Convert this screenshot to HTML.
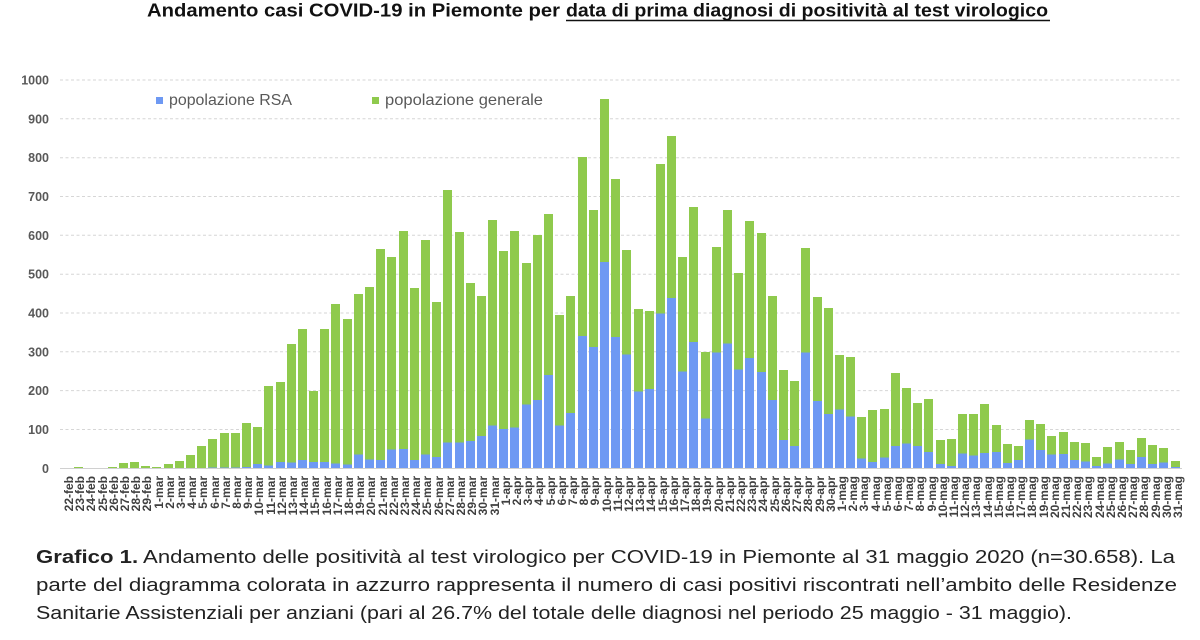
<!DOCTYPE html>
<html><head><meta charset="utf-8">
<style>
html,body{margin:0;padding:0;background:#fff;}
body{width:1200px;height:640px;overflow:hidden;position:relative;font-family:"Liberation Sans",sans-serif;}
svg{position:absolute;left:0;top:0;}
#bars{position:absolute;left:61.9px;top:0;height:468.3px;display:flex;align-items:flex-end;}
#bars i{display:block;width:9px;margin:0 1.105px;height:calc(var(--t)*0.3883px);background:linear-gradient(to top,#6e99f3 calc(var(--r)*0.3883px),#8fca4d 0);}
#lab{position:absolute;left:61.9px;top:476px;display:flex;align-items:flex-start;}
#lab span{display:block;width:11.21px;line-height:11.21px;writing-mode:vertical-rl;transform:rotate(180deg);font:bold 12px "Liberation Sans",sans-serif;color:#404040;white-space:nowrap;}
</style></head><body>
<svg width="1200" height="640" xmlns="http://www.w3.org/2000/svg">
<g stroke="#d6d6d6" stroke-width="1" stroke-dasharray="3 2.5">
<line x1="60" x2="1182" y1="80" y2="80"/>
<line x1="60" x2="1182" y1="118.8" y2="118.8"/>
<line x1="60" x2="1182" y1="157.7" y2="157.7"/>
<line x1="60" x2="1182" y1="196.5" y2="196.5"/>
<line x1="60" x2="1182" y1="235.3" y2="235.3"/>
<line x1="60" x2="1182" y1="274.2" y2="274.2"/>
<line x1="60" x2="1182" y1="313" y2="313"/>
<line x1="60" x2="1182" y1="351.8" y2="351.8"/>
<line x1="60" x2="1182" y1="390.6" y2="390.6"/>
<line x1="60" x2="1182" y1="429.5" y2="429.5"/>
</g>
<line x1="60" x2="1182" y1="468.5" y2="468.5" stroke="#d0d0d0" stroke-width="1"/>
<g font-family="Liberation Sans, sans-serif" font-weight="bold" font-size="12.5" fill="#595959" text-anchor="end">
<text x="49" y="84.5">1000</text>
<text x="49" y="123.3">900</text>
<text x="49" y="162.2">800</text>
<text x="49" y="201">700</text>
<text x="49" y="239.8">600</text>
<text x="49" y="278.7">500</text>
<text x="49" y="317.5">400</text>
<text x="49" y="356.3">300</text>
<text x="49" y="395.1">200</text>
<text x="49" y="434">100</text>
<text x="49" y="472.8">0</text>
</g>
<text x="147" y="16.5" font-family="Liberation Sans, sans-serif" font-weight="bold" font-size="18" fill="#111" textLength="413" lengthAdjust="spacingAndGlyphs">Andamento casi COVID-19 in Piemonte per</text>
<text x="566" y="16.5" font-family="Liberation Sans, sans-serif" font-weight="bold" font-size="18" fill="#111" textLength="482" lengthAdjust="spacingAndGlyphs">data di prima diagnosi di positività al test virologico</text>
<line x1="566" x2="1050" y1="20.5" y2="20.5" stroke="#111" stroke-width="1.5"/>
<rect x="156" y="97" width="7" height="7" fill="#6e99f3"/>
<text x="169" y="105" font-family="Liberation Sans, sans-serif" font-size="16" fill="#595959" textLength="123" lengthAdjust="spacingAndGlyphs">popolazione RSA</text>
<rect x="372" y="97" width="7" height="7" fill="#8fca4d"/>
<text x="385" y="105" font-family="Liberation Sans, sans-serif" font-size="16" fill="#595959" textLength="158" lengthAdjust="spacingAndGlyphs">popolazione generale</text>
<g font-family="Liberation Sans, sans-serif" font-size="18" fill="#222">
<text x="36" y="563" textLength="1139" lengthAdjust="spacingAndGlyphs"><tspan font-weight="bold">Grafico 1.</tspan> Andamento delle positività al test virologico per COVID-19 in Piemonte al 31 maggio 2020 (n=30.658). La</text>
<text x="36" y="591" textLength="1141" lengthAdjust="spacingAndGlyphs">parte del diagramma colorata in azzurro rappresenta il numero di casi positivi riscontrati nell’ambito delle Residenze</text>
<text x="36" y="619" textLength="1036" lengthAdjust="spacingAndGlyphs">Sanitarie Assistenziali per anziani (pari al 26.7% del totale delle diagnosi nel periodo 25 maggio - 31 maggio).</text>
</g>
</svg>
<div id="bars">
<i style="--t:2;--r:0"></i><i style="--t:3;--r:0"></i><i style="--t:1;--r:0"></i><i style="--t:1;--r:0"></i><i style="--t:3;--r:0"></i><i style="--t:13;--r:0"></i><i style="--t:15;--r:0"></i><i style="--t:5;--r:0"></i><i style="--t:3;--r:0"></i><i style="--t:11;--r:0"></i>
<i style="--t:19;--r:0"></i><i style="--t:34;--r:0"></i><i style="--t:58;--r:0"></i><i style="--t:76;--r:1"></i><i style="--t:90;--r:1"></i><i style="--t:91;--r:1"></i><i style="--t:117;--r:3"></i><i style="--t:107;--r:10"></i><i style="--t:212;--r:6"></i><i style="--t:223;--r:16"></i>
<i style="--t:319;--r:14"></i><i style="--t:360;--r:20"></i><i style="--t:198;--r:15"></i><i style="--t:359;--r:15"></i><i style="--t:422;--r:12"></i><i style="--t:384;--r:9"></i><i style="--t:450;--r:35"></i><i style="--t:467;--r:22"></i><i style="--t:566;--r:20"></i><i style="--t:544;--r:48"></i>
<i style="--t:611;--r:49"></i><i style="--t:465;--r:20"></i><i style="--t:587;--r:35"></i><i style="--t:429;--r:28"></i><i style="--t:716;--r:66"></i><i style="--t:608;--r:66"></i><i style="--t:477;--r:70"></i><i style="--t:443;--r:82"></i><i style="--t:640;--r:109"></i><i style="--t:560;--r:100"></i>
<i style="--t:611;--r:104"></i><i style="--t:529;--r:164"></i><i style="--t:601;--r:175"></i><i style="--t:654;--r:239"></i><i style="--t:394;--r:109"></i><i style="--t:445;--r:142"></i><i style="--t:802;--r:340"></i><i style="--t:664;--r:311"></i><i style="--t:950;--r:530"></i><i style="--t:745;--r:338"></i>
<i style="--t:563;--r:292"></i><i style="--t:410;--r:197"></i><i style="--t:406;--r:204"></i><i style="--t:783;--r:398"></i><i style="--t:855;--r:438"></i><i style="--t:545;--r:248"></i><i style="--t:673;--r:325"></i><i style="--t:300;--r:128"></i><i style="--t:570;--r:297"></i><i style="--t:666;--r:320"></i>
<i style="--t:504;--r:254"></i><i style="--t:637;--r:283"></i><i style="--t:607;--r:247"></i><i style="--t:445;--r:175"></i><i style="--t:253;--r:72"></i><i style="--t:224;--r:57"></i><i style="--t:568;--r:298"></i><i style="--t:441;--r:173"></i><i style="--t:413;--r:139"></i><i style="--t:291;--r:151"></i>
<i style="--t:286;--r:133"></i><i style="--t:133;--r:25"></i><i style="--t:150;--r:15"></i><i style="--t:153;--r:27"></i><i style="--t:246;--r:57"></i><i style="--t:206;--r:63"></i><i style="--t:168;--r:57"></i><i style="--t:178;--r:41"></i><i style="--t:72;--r:10"></i><i style="--t:76;--r:5"></i>
<i style="--t:139;--r:37"></i><i style="--t:139;--r:32"></i><i style="--t:166;--r:39"></i><i style="--t:112;--r:41"></i><i style="--t:62;--r:13"></i><i style="--t:57;--r:21"></i><i style="--t:125;--r:73"></i><i style="--t:114;--r:46"></i><i style="--t:84;--r:35"></i><i style="--t:94;--r:36"></i>
<i style="--t:69;--r:20"></i><i style="--t:65;--r:17"></i><i style="--t:28;--r:5"></i><i style="--t:56;--r:12"></i><i style="--t:68;--r:22"></i><i style="--t:46;--r:10"></i><i style="--t:78;--r:28"></i><i style="--t:61;--r:10"></i><i style="--t:52;--r:14"></i><i style="--t:20;--r:2"></i>
</div>
<div id="lab">
<span>22-feb</span><span>23-feb</span><span>24-feb</span><span>25-feb</span><span>26-feb</span><span>27-feb</span><span>28-feb</span><span>29-feb</span>
<span>1-mar</span><span>2-mar</span><span>3-mar</span><span>4-mar</span><span>5-mar</span><span>6-mar</span><span>7-mar</span><span>8-mar</span><span>9-mar</span><span>10-mar</span><span>11-mar</span><span>12-mar</span><span>13-mar</span><span>14-mar</span><span>15-mar</span><span>16-mar</span><span>17-mar</span><span>18-mar</span><span>19-mar</span><span>20-mar</span><span>21-mar</span><span>22-mar</span><span>23-mar</span><span>24-mar</span><span>25-mar</span><span>26-mar</span><span>27-mar</span><span>28-mar</span><span>29-mar</span><span>30-mar</span><span>31-mar</span>
<span>1-apr</span><span>2-apr</span><span>3-apr</span><span>4-apr</span><span>5-apr</span><span>6-apr</span><span>7-apr</span><span>8-apr</span><span>9-apr</span><span>10-apr</span><span>11-apr</span><span>12-apr</span><span>13-apr</span><span>14-apr</span><span>15-apr</span><span>16-apr</span><span>17-apr</span><span>18-apr</span><span>19-apr</span><span>20-apr</span><span>21-apr</span><span>22-apr</span><span>23-apr</span><span>24-apr</span><span>25-apr</span><span>26-apr</span><span>27-apr</span><span>28-apr</span><span>29-apr</span><span>30-apr</span>
<span>1-mag</span><span>2-mag</span><span>3-mag</span><span>4-mag</span><span>5-mag</span><span>6-mag</span><span>7-mag</span><span>8-mag</span><span>9-mag</span><span>10-mag</span><span>11-mag</span><span>12-mag</span><span>13-mag</span><span>14-mag</span><span>15-mag</span><span>16-mag</span><span>17-mag</span><span>18-mag</span><span>19-mag</span><span>20-mag</span><span>21-mag</span><span>22-mag</span><span>23-mag</span><span>24-mag</span><span>25-mag</span><span>26-mag</span><span>27-mag</span><span>28-mag</span><span>29-mag</span><span>30-mag</span><span>31-mag</span>
</div>
</body></html>
